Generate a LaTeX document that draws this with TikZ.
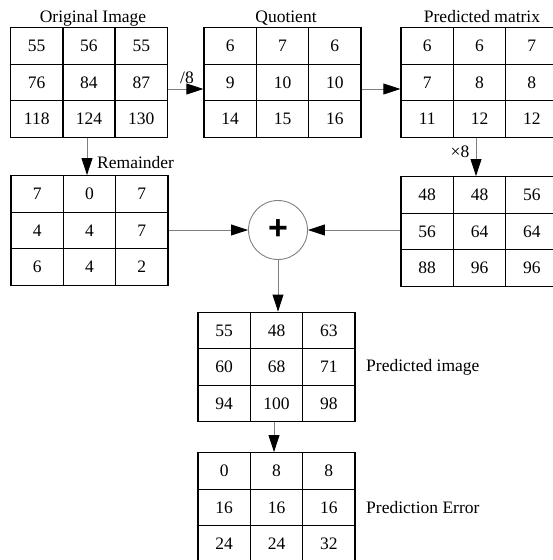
\documentclass[tikz,border=0pt]{standalone}
\usepackage{fontspec}
\setmainfont{Liberation Serif}
\newfontfamily\plusfont{Liberation Sans}
\usetikzlibrary{matrix,arrows.meta}
\tikzset{
  grid3/.style={matrix of nodes, inner sep=0pt, outer sep=0pt,
    column sep=-1.4pt, row sep=-1.4pt,
    nodes={draw, line width=1.4pt, minimum width=52.3pt, minimum height=36.5pt,
      inner sep=0pt, font=\fontsize{17.5}{20}\selectfont, anchor=center}},
  lbl/.style={inner sep=0pt, font=\fontsize{17.5}{20}\selectfont},
  arr/.style={draw=gray, line width=0.9pt,
    -{Triangle[length=17pt,width=11pt,fill=black,color=black]}},
  sumnode/.style={circle, draw=gray, line width=0.9pt, minimum size=59pt, inner sep=0pt,
    font=\plusfont\bfseries\fontsize{34}{34}\selectfont}
}
\begin{document}
\begin{tikzpicture}[x=1pt,y=-1pt]
\useasboundingbox (0,0) rectangle (553,560);
\clip (0,0) rectangle (553,560);

\matrix (orig) [grid3] at (89,82.5) {55 & 56 & 55\\ 76 & 84 & 87\\ 118 & 124 & 130\\};
\matrix (quot) [grid3] at (282.5,82.5) {6 & 7 & 6\\ 9 & 10 & 10\\ 14 & 15 & 16\\};
\matrix (pred) [grid3] at (479.5,82.5) {6 & 6 & 7\\ 7 & 8 & 8\\ 11 & 12 & 12\\};
\matrix (rem) [grid3] at (89.5,230.5) {7 & 0 & 7\\ 4 & 4 & 7\\ 6 & 4 & 2\\};
\matrix (mul) [grid3] at (479.5,231.5) {48 & 48 & 56\\ 56 & 64 & 64\\ 88 & 96 & 96\\};
\matrix (pimg) [grid3] at (276.5,367) {55 & 48 & 63\\ 60 & 68 & 71\\ 94 & 100 & 98\\};
\matrix (perr) [grid3] at (276.5,507.5) {0 & 8 & 8\\ 16 & 16 & 16\\ 24 & 24 & 32\\};

\node[sumnode] (plus) at (278,230) {+};

\node[lbl, anchor=base] (t1) at (93,22) {Original Image};
\node[lbl, anchor=base] (t2) at (286,22) {Quotient};
\node[lbl, anchor=base] (t3) at (482,22) {Predicted matrix};
\node[lbl, anchor=base west] (t4) at (97,168) {Remainder};
\node[lbl, anchor=base] (t5) at (187,83) {/8};
\node[lbl, anchor=base] (t6) at (460,157) {×8};
\node[lbl, anchor=west] (t7) at (366,367.5) {Predicted image};
\node[lbl, anchor=west] (t8) at (366,507.5) {Prediction Error};

\draw[arr] ([yshift=-6.5pt]orig.east) -- ([yshift=-6.5pt]quot.west);
\draw[arr] ([yshift=-6.5pt]quot.east) -- ([yshift=-6.5pt]pred.west);
\draw[arr] ([xshift=-2pt]orig.south) -- ([xshift=-2.5pt]rem.north);
\draw[arr] ([xshift=-3.5pt]pred.south) -- ([xshift=-3.5pt]mul.north);
\draw[arr] (rem.east |- plus.west) -- (plus.west);
\draw[arr] (mul.west |- plus.east) -- (plus.east);
\draw[arr] (plus.south) -- (plus.south |- pimg.north);
\draw[arr] ([xshift=-2.5pt]pimg.south) -- ([xshift=-2.5pt]perr.north);
\end{tikzpicture}
\end{document}
